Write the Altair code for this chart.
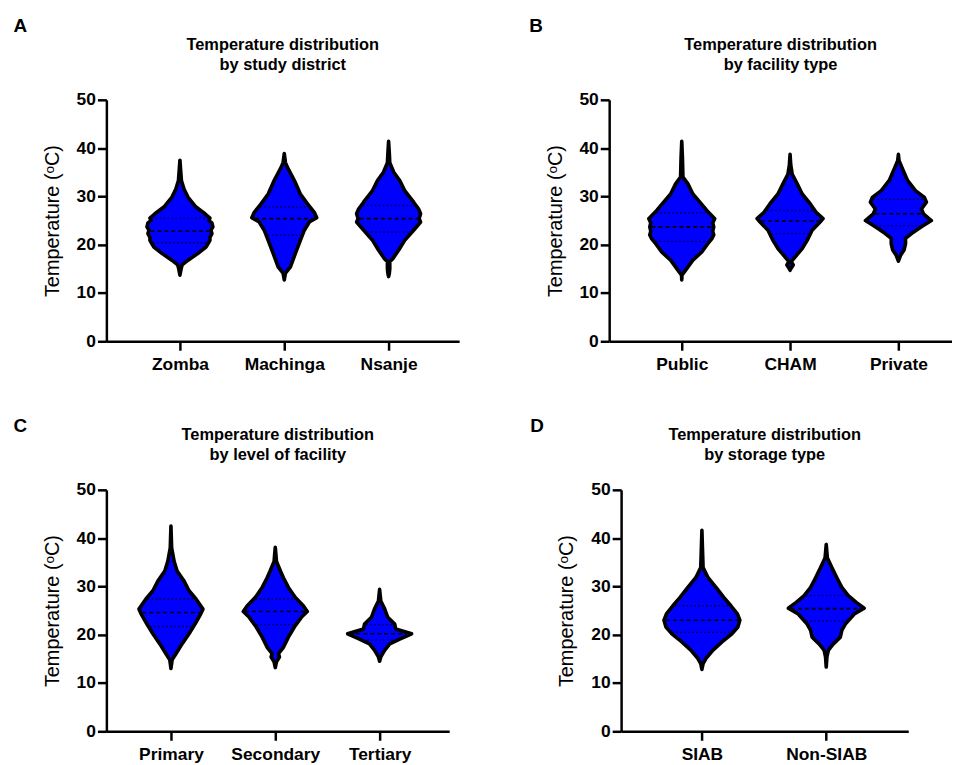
import altair as alt
import pandas as pd
import numpy as np

FONT = "Liberation Sans"

# ---------------- Panel A: study district ----------------
A_cats = ["Zomba", "Machinga", "Nsanje"]
zomba_t = [37.5, 35.5, 33.3, 31.5, 29.8, 27.8, 26.4, 25.5, 25.0, 24.5, 23.7, 23.0, 22.3, 21.5, 20.9, 20.2, 19.5, 18.2, 16.8, 15.8, 15.0, 13.7]
zomba_w = [0, 2.5, 3.3, 6, 10, 18, 27, 32, 31, 34, 35, 33, 34, 32, 32, 30, 28, 20, 10, 4, 3, 0]
machinga_t = [38.9, 37.0, 36.0, 33.3, 30.5, 28.5, 26.7, 25.6, 24.7, 23.0, 20.9, 18.2, 15.4, 14.1, 12.7]
machinga_w = [0, 3, 5, 12, 18, 25, 32, 34.5, 27, 22, 18, 13, 8, 3, 0]
nsanje_t = [41.4, 39.0, 37.0, 35.0, 33.3, 31.2, 28.8, 27.4, 26.4, 25.4, 24.7, 23.0, 20.9, 18.9, 17.1, 16.5, 15.0, 14.0, 13.4]
nsanje_w = [0, 2.5, 3, 7, 13, 18, 27, 32, 34, 32.5, 34, 27, 18, 12, 6, 3, 3, 2.5, 0]
A_quart = [[20.4, 22.8, 25.5], [22.0, 25.4, 27.8], [22.6, 25.4, 28.1]]

# ---------------- Panel B: facility type ----------------
B_cats = ["Public", "CHAM", "Private"]
public_t = [41.4, 38.0, 34.0, 32.6, 30.5, 28.8, 27.1, 25.4, 24.5, 23.7, 22.8, 22.0, 21.2, 20.2, 18.5, 16.8, 15.1, 13.7, 12.7]
public_w = [0, 2.5, 3, 8, 13, 20, 27, 35, 33, 34, 33, 34, 32, 28, 22, 13, 7, 2, 0]
cham_t = [38.7, 36.5, 34.6, 32.6, 30.5, 28.5, 26.7, 25.4, 24.7, 23.0, 20.9, 19.2, 17.5, 16.5, 15.8, 15.2, 14.7]
cham_w = [0, 2.5, 4, 9, 14, 22, 28, 35, 32, 24, 19, 14, 7, 3, 5, 3, 0]
private_t = [38.7, 37.4, 35.7, 33.3, 31.2, 29.8, 28.8, 27.4, 26.4, 25.0, 23.7, 22.3, 21.3, 20.2, 18.9, 17.8, 16.6]
private_w = [0, 2.5, 6, 11, 19, 28, 30, 25, 27, 35, 25, 15, 9, 9, 7.5, 4, 0]
B_quart = [[20.7, 23.7, 26.6], [22.3, 24.9, 27.1], [23.9, 26.4, 29.4]]

# ---------------- Panel C: level of facility ----------------
C_cats = ["Primary", "Secondary", "Tertiary"]
primary_t = [42.5, 38.0, 35.2, 33.2, 31.1, 29.1, 27.4, 25.3, 24.0, 22.2, 20.2, 18.1, 16.1, 14.8, 13.0]
primary_w = [0, 2.5, 5, 8, 15, 20, 27, 34, 31, 26, 20, 13, 7, 3, 0]
secondary_t = [38.1, 36.5, 35.2, 33.2, 31.8, 29.8, 27.7, 26.0, 24.8, 23.6, 21.6, 19.5, 17.4, 16.1, 15.4, 14.4, 13.2]
secondary_w = [0, 2.5, 3, 7, 10, 15, 22, 30, 34, 28, 21, 15, 10, 5, 6, 3, 0]
tertiary_t = [29.4, 28.0, 27.0, 25.3, 23.6, 22.2, 21.2, 20.2, 19.1, 18.1, 16.8, 15.4, 14.5]
tertiary_w = [0, 2.5, 3, 7, 10, 17, 18, 34, 22, 12, 7, 3, 0]
C_quart = [[21.7, 24.6, 27.4], [22.1, 24.8, 27.4], [18.9, 20.2, 22.1]]

# ---------------- Panel D: storage type ----------------
D_cats = ["SIAB", "Non-SIAB"]
siab_t = [41.6, 37.0, 33.9, 31.8, 29.8, 27.7, 26.0, 24.3, 23.0, 21.6, 20.2, 18.5, 16.8, 15.1, 14.0, 12.8]
siab_w = [0, 2.5, 3, 8, 16, 24, 31, 37.5, 40, 38, 32, 22, 13, 6, 3, 0]
nonsiab_t = [38.7, 37.0, 35.9, 33.9, 31.8, 29.8, 28.1, 26.7, 25.5, 24.3, 22.2, 20.9, 19.5, 18.1, 16.8, 15.4, 13.3]
nonsiab_w = [0, 2.5, 3, 7.5, 12.5, 17.5, 24, 32, 40, 30, 21, 17.5, 16, 9, 4, 2.5, 0]
D_quart = [[20.5, 23.0, 26.0], [22.8, 25.4, 28.1]]

y_ticks = [0, 10, 20, 30, 40, 50]
Y_TITLE = "Temperature (\u1d52C)"

STROKE = 3.6


def panel(cats, temps, widths, quarts, heading, letter, width, dom,
          letter_dx, letter_dy):
    ppu = width / (dom[1] - dom[0])  # pixels per category unit
    rows = []
    qrows = []
    for i, (c, t, w, q) in enumerate(zip(cats, temps, widths, quarts)):
        for tt, ww in zip(t, w):
            rows.append(dict(cat=c, idx=i + 1, temp=tt,
                             w=max(ww - STROKE / 2, 0) / ppu))
        order = np.argsort(t)
        ts = np.array(t)[order]
        ws = np.array(w)[order]
        for k, qq in enumerate(q):
            hw = max(float(np.interp(qq, ts, ws)) - STROKE, 0) / ppu
            qrows.append(dict(cat=c, idx=i + 1, q=qq, hw=hw,
                              kind="med" if k == 1 else "quart"))
    df = pd.DataFrame(rows).sort_values(["idx", "temp"])
    qdf = pd.DataFrame(qrows)

    label_expr = "[" + ",".join("'%s'" % c for c in cats) + "][datum.value - 1]"
    xscale = alt.Scale(domain=dom, nice=False, zero=False)
    yscale = alt.Scale(domain=[0, 50], nice=False)

    area = alt.Chart(df).transform_calculate(
        xl="datum.idx - datum.w", xr="datum.idx + datum.w"
    ).mark_area(
        orient="horizontal", fill="#0000ff", stroke="black",
        strokeWidth=STROKE, strokeJoin="round", fillOpacity=1
    ).encode(
        y=alt.Y("temp:Q", scale=yscale,
                axis=alt.Axis(values=y_ticks, title=Y_TITLE, grid=False,
                              titlePadding=14, labelPadding=2)),
        x=alt.X("xl:Q", scale=xscale,
                axis=alt.Axis(values=list(range(1, len(cats) + 1)),
                              labelExpr=label_expr, title=None, grid=False,
                              labelPadding=5, labelOverlap=False,
                              labelFlush=False)),
        x2="xr:Q",
        detail="cat:N",
    )

    qbase = alt.Chart(qdf).transform_calculate(
        xl="datum.idx - datum.hw", xr="datum.idx + datum.hw"
    )
    med = qbase.transform_filter("datum.kind == 'med'").mark_rule(
        color="black", strokeWidth=1.6, strokeDash=[4, 3]
    ).encode(y=alt.Y("q:Q", scale=yscale), x=alt.X("xl:Q", scale=xscale), x2="xr:Q")
    qu = qbase.transform_filter("datum.kind == 'quart'").mark_rule(
        color="#000033", strokeWidth=1.3, strokeDash=[1.5, 2.5]
    ).encode(y=alt.Y("q:Q", scale=yscale), x=alt.X("xl:Q", scale=xscale), x2="xr:Q")

    layer = alt.layer(area, med, qu).properties(
        width=width, height=243,
        title=alt.TitleParams(
            text=heading, fontSize=16.5, fontWeight="bold", font=FONT,
            color="black", anchor="middle", frame="group", offset=18,
            lineHeight=20,
        ),
    )
    return alt.vconcat(layer, title=alt.TitleParams(
        text=letter, fontSize=19, fontWeight="bold", font=FONT, color="black",
        anchor="start", dx=letter_dx, dy=letter_dy, offset=2.5,
    ))


pA = panel(A_cats, [zomba_t, machinga_t, nsanje_t], [zomba_w, machinga_w, nsanje_w],
           A_quart, ["Temperature distribution", "by study district"], "A",
           355, [0.295, 3.676], -29, 2)
pB = panel(B_cats, [public_t, cham_t, private_t], [public_w, cham_w, private_w],
           B_quart, ["Temperature distribution", "by facility type"], "B",
           345, [0.33, 3.495], -16, 2)
pC = panel(C_cats, [primary_t, secondary_t, tertiary_t],
           [primary_w, secondary_w, tertiary_w],
           C_quart, ["Temperature distribution", "by level of facility"], "C",
           345, [0.381, 3.667], -29, 12)
pD = panel(D_cats, [siab_t, nonsiab_t], [siab_w, nonsiab_w],
           D_quart, ["Temperature distribution", "by storage type"], "D",
           289, [0.35, 2.66], -27, 12)

row1 = alt.hconcat(pA, pB, spacing=70)
row2 = alt.hconcat(pC, pD, spacing=81)

chart = alt.concat(row1, row2, columns=1, spacing=44.5, align="none").properties(
    padding={"left": 5, "top": 7, "right": 0, "bottom": 0}
).configure_view(stroke=None).configure_axis(
    domainColor="black", domainWidth=2.5, tickColor="black", tickWidth=2.5,
    tickSize=9, labelFont=FONT, labelFontSize=17.5, labelFontWeight="bold",
    labelColor="black", titleFont=FONT, titleFontSize=20,
    titleFontWeight="normal", titleColor="black",
)

chart.save("out.html", embed_options={"renderer": "svg", "actions": False})
